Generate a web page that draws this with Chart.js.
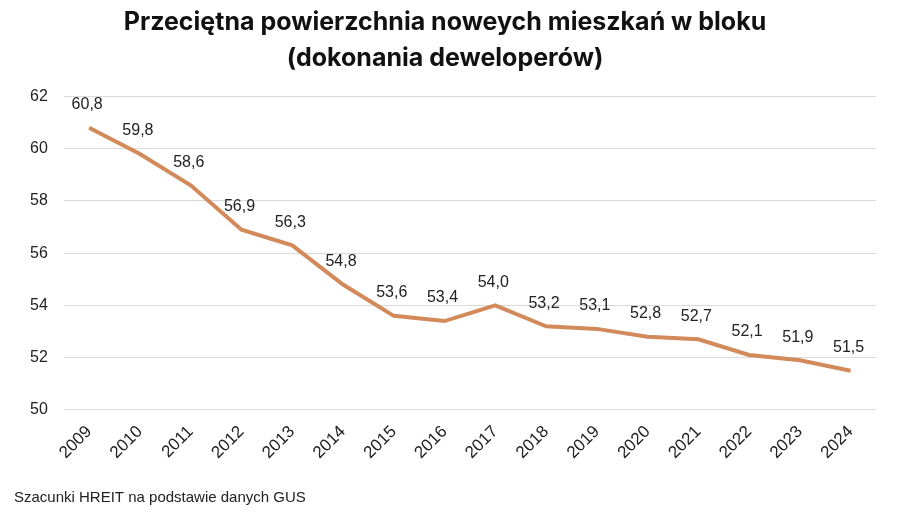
<!DOCTYPE html>
<html>
<head>
<meta charset="utf-8">
<script src="https://cdn.jsdelivr.net/npm/chart.js@4"></script>
<style>
  html, body { margin: 0; padding: 0; background: #fff; }
  #wrap { width: 900px; height: 513px; }
</style>
</head>
<body>
<div id="wrap"><canvas id="area"></canvas></div>
<script>
const years = ["2009", "2010", "2011", "2012", "2013", "2014", "2015", "2016",
    "2017", "2018", "2019", "2020", "2021", "2022", "2023", "2024"];
const avgArea = [60.8, 59.8, 58.6, 56.9, 56.3, 54.8, 53.6, 53.4,
    54.0, 53.2, 53.1, 52.8, 52.7, 52.1, 51.9, 51.5];
const yTicks = [50, 52, 54, 56, 58, 60, 62];

const baseFont = '"Liberation Sans", Arial, sans-serif';

// simple value labels above each point, comma as decimal separator
const pointLabels = {
    id: 'pointLabels',
    afterDatasetsDraw(chart) {
        const ctx = chart.ctx;
        const meta = chart.getDatasetMeta(0);
        ctx.save();
        ctx.font = '16px ' + baseFont;
        ctx.fillStyle = '#222';
        ctx.textAlign = 'center';
        ctx.textBaseline = 'bottom';
        meta.data.forEach((pt, i) => {
            const txt = avgArea[i].toFixed(1).replace('.', ',');
            ctx.fillText(txt, pt.x - 2, pt.y - 15);
        });
        ctx.restore();
    }
};

const ctx = document.getElementById('area').getContext('2d');

const chart = new Chart(ctx, {
    type: 'line',
    data: {
        labels: years,
        datasets: [{
            label: "Przeciętna powierzchnia",
            data: avgArea,
            borderColor: 'rgb(211, 138, 90)',
            borderWidth: 4,
            pointRadius: 0,
            tension: 0,
            fill: false
        }]
    },
    plugins: [pointLabels],
    options: {
        responsive: true,
        maintainAspectRatio: false,
        animation: false,
        layout: {
            padding: { left: 14, right: 24, top: 0, bottom: 6 }
        },
        scales: {
            x: {
                offset: true,
                grid: { display: false },
                border: { display: false },
                ticks: {
                    color: '#222',
                    font: { size: 17, family: baseFont },
                    maxRotation: 45,
                    minRotation: 45,
                    padding: 4
                }
            },
            y: {
                min: 50,
                max: 62,
                afterBuildTicks: (axis) => {
                    axis.ticks = yTicks.map(v => ({ value: v }));
                },
                grid: { color: '#d9d9d9', drawTicks: false },
                border: { display: false },
                ticks: {
                    color: '#222',
                    font: { size: 16, family: baseFont },
                    padding: 16
                }
            }
        },
        plugins: {
            legend: { display: false },
            tooltip: { enabled: false },
            title: {
                display: true,
                text: ['Przeciętna powierzchnia noweych mieszkań w bloku', '(dokonania deweloperów)'],
                color: '#111',
                font: { size: 25, weight: 'bold', family: 'Inter, "Open Sans", sans-serif', lineHeight: 1.45 },
                padding: { top: 4, bottom: 20 }
            },
            subtitle: {
                display: true,
                position: 'bottom',
                align: 'start',
                text: 'Szacunki HREIT na podstawie danych GUS',
                color: '#222',
                font: { size: 15, family: baseFont },
                padding: { top: 22, bottom: 0 }
            }
        }
    }
});
</script>
</body>
</html>
